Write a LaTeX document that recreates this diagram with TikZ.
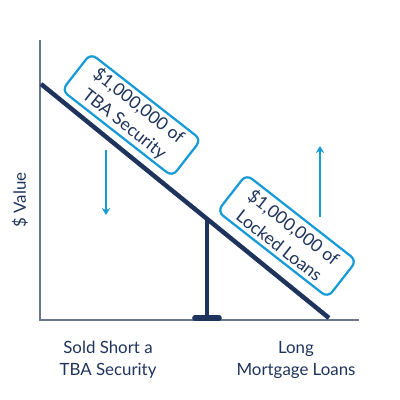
\documentclass[tikz,border=0pt]{standalone}
\usepackage{fontspec}
\setmainfont{Lato}
\usepackage{xcolor}
\usetikzlibrary{arrows.meta, positioning}
\definecolor{tbanavy}{RGB}{31, 52, 92}
\definecolor{tbablue}{RGB}{22, 155, 214}
\definecolor{tbaaxis}{RGB}{105, 118, 145}

\begin{document}
\begin{tikzpicture}[x=0.025cm, y=-0.025cm,
    font=\fontsize{12}{15.5}\selectfont, text=tbanavy,
    tagbox/.style={draw=tbablue, line width=1.6pt, fill=white,
      rounded corners=5pt, minimum width=3.5cm, minimum height=1.17cm,
      align=center, inner sep=2pt, font=\fontsize{12.5}{16.5}\selectfont},
    move/.style={tbablue, line width=1.3pt, -{Stealth[length=5pt, width=6pt]}}]
    \useasboundingbox (0,0) rectangle (400,400);
    % axes
    \coordinate (top) at (40,40);
    \coordinate (origin) at (40,320);
    \coordinate (xend) at (359,320);
    \draw[tbaaxis, line width=1.2pt] (top) -- (origin) -- (xend);
    \node[rotate=90] (yl) at (20,200) {\$ Value};

    % beam and fulcrum
    \coordinate (bl) at (41,84);
    \coordinate (br) at (329,318);
    \coordinate (pivot) at (207,218.5);
    \coordinate (foot) at (207,318);
    \draw[tbanavy, line width=3.2pt] (bl) -- (br);
    \draw[tbanavy, line width=3.2pt] (pivot) -- (foot);
    \draw[tbanavy, line width=4pt, line cap=round] (195,318) -- (219,318);

    % labels on the beam
    \node[tagbox, rotate=-38] (short) at (131.5,115) {\$1,000,000 of\\TBA Security};
    \node[tagbox, rotate=-38] (long) at (287,236) {\$1,000,000 of\\Locked Loans};

    % moves
    \coordinate (d1) at (106,150);
    \coordinate (d2) at (106,215);
    \coordinate (u1) at (320,217);
    \coordinate (u2) at (320,146);
    \draw[move] (d1) -- (d2);
    \draw[move] (u1) -- (u2);

    % captions
    \node[align=center] (sold) at (108,360) {Sold Short a\\TBA Security};
    \node[align=center] (mort) at (296,360) {Long\\Mortgage Loans};
  \end{tikzpicture}
\end{document}
